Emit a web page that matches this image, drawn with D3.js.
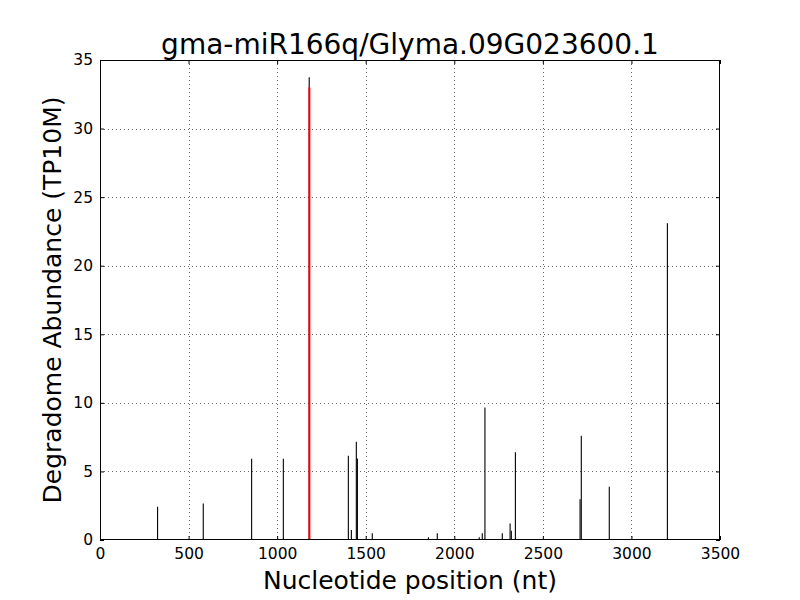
<!DOCTYPE html>
<html>
<head>
<meta charset="utf-8">
<script src="https://cdn.jsdelivr.net/npm/d3@7"></script>
<style>
  body { margin: 0; background: #fff; }
  svg { display: block; font-family: "DejaVu Sans", sans-serif; }
</style>
</head>
<body>
<svg id="chart" width="800" height="600"></svg>
<script>
const titleText = "gma-miR166q/Glyma.09G023600.1";
const xLabel = "Nucleotide position (nt)";
const yLabel = "Degradome Abundance (TP10M)";

const positions = [325, 583, 856, 1035, 1181, 1402, 1419, 1447, 1453, 1537, 1854, 1904, 2141, 2158, 2173, 2271, 2315, 2322, 2345, 2710, 2717, 2875, 3203];
const abundances = [2.43, 2.67, 5.93, 5.93, 33.74, 6.15, 0.73, 7.17, 5.95, 0.49, 0.2, 0.49, 0.2, 0.49, 9.67, 0.49, 1.21, 0.68, 6.39, 2.97, 7.6, 3.89, 23.09];

const sitePositions = [1182];
const siteAbundances = [33.0];

const xTicks = [0, 500, 1000, 1500, 2000, 2500, 3000, 3500];
const yTicks = [0, 5, 10, 15, 20, 25, 30, 35];

const margin = {left: 100, right: 80, top: 60, bottom: 60};
const W = 800, H = 600;
const svg = d3.select("#chart");
svg.append("rect").attr("width", W).attr("height", H).attr("fill", "#fff");

const x = d3.scaleLinear().domain([0, 3500]).range([margin.left, W - margin.right]);
const y = d3.scaleLinear().domain([0, 35]).range([H - margin.bottom, margin.top]);

const g = svg.append("g");

// grid
g.selectAll(".vgrid").data(xTicks.slice(1, -1)).enter().append("line")
  .attr("x1", d => Math.round(x(d)) + 0.5).attr("x2", d => Math.round(x(d)) + 0.5)
  .attr("y1", y(35)).attr("y2", y(0))
  .attr("stroke", "#000").attr("stroke-width", 0.6).attr("stroke-dasharray", "1,3");
g.selectAll(".hgrid").data(yTicks.slice(1, -1)).enter().append("line")
  .attr("y1", d => Math.round(y(d)) + 0.5).attr("y2", d => Math.round(y(d)) + 0.5)
  .attr("x1", x(0)).attr("x2", x(3500))
  .attr("stroke", "#000").attr("stroke-width", 0.6).attr("stroke-dasharray", "1,3");

// bars
g.selectAll(".bar").data(positions.map((p, i) => ({p, v: abundances[i]}))).enter().append("line")
  .attr("x1", d => x(d.p)).attr("x2", d => x(d.p))
  .attr("y1", y(0)).attr("y2", d => y(d.v))
  .attr("stroke", "#000").attr("stroke-width", 1.1);

g.selectAll(".site").data(sitePositions.map((p, i) => ({p, v: siteAbundances[i]}))).enter().append("line")
  .attr("x1", d => x(d.p)).attr("x2", d => x(d.p))
  .attr("y1", y(0)).attr("y2", d => y(d.v))
  .attr("stroke", "#ff0000").attr("stroke-width", 2);

// axes (ticks inward)
const tickSize = 4;
const xAxisB = d3.axisBottom(x).tickValues(xTicks).tickFormat(d3.format("d")).tickSizeInner(-tickSize).tickSizeOuter(0).tickPadding(8);
const xAxisT = d3.axisTop(x).tickValues(xTicks).tickFormat("").tickSizeInner(-tickSize).tickSizeOuter(0);
const yAxisL = d3.axisLeft(y).tickValues(yTicks).tickFormat(d3.format("d")).tickSizeInner(-tickSize).tickSizeOuter(0).tickPadding(7);
const yAxisR = d3.axisRight(y).tickValues(yTicks).tickFormat("").tickSizeInner(-tickSize).tickSizeOuter(0);

function style(sel) {
  sel.select(".domain").remove();
  sel.selectAll("text").attr("fill", "#000").style("font-size", "15.5px").style("font-family", "DejaVu Sans, sans-serif");
  sel.selectAll(".tick line").attr("stroke", "#000");
}
svg.append("g").attr("transform", `translate(0,${y(0)})`).call(xAxisB).call(style);
svg.append("g").attr("transform", `translate(0,${y(35)})`).call(xAxisT).call(style);
svg.append("g").attr("transform", `translate(${x(0)},0)`).call(yAxisL).call(style);
svg.append("g").attr("transform", `translate(${x(3500)},0)`).call(yAxisR).call(style);

// frame
svg.append("rect").attr("x", x(0) + 0.5).attr("y", y(35) + 0.5)
  .attr("width", x(3500) - x(0) - 1).attr("height", y(0) - y(35) - 1)
  .attr("fill", "none").attr("stroke", "#000").attr("stroke-width", 1);

// title and labels
svg.append("text").attr("x", (x(0) + x(3500)) / 2).attr("y", 54)
  .attr("text-anchor", "middle").style("font-size", "28px").attr("fill", "#000").text(titleText);
svg.append("text").attr("x", (x(0) + x(3500)) / 2).attr("y", 589)
  .attr("text-anchor", "middle").style("font-size", "25px").attr("fill", "#000").text(xLabel);
svg.append("text").attr("transform", `translate(61,${(y(0) + y(35)) / 2}) rotate(-90)`)
  .attr("text-anchor", "middle").style("font-size", "25px").attr("fill", "#000").text(yLabel);
</script>
</body>
</html>
